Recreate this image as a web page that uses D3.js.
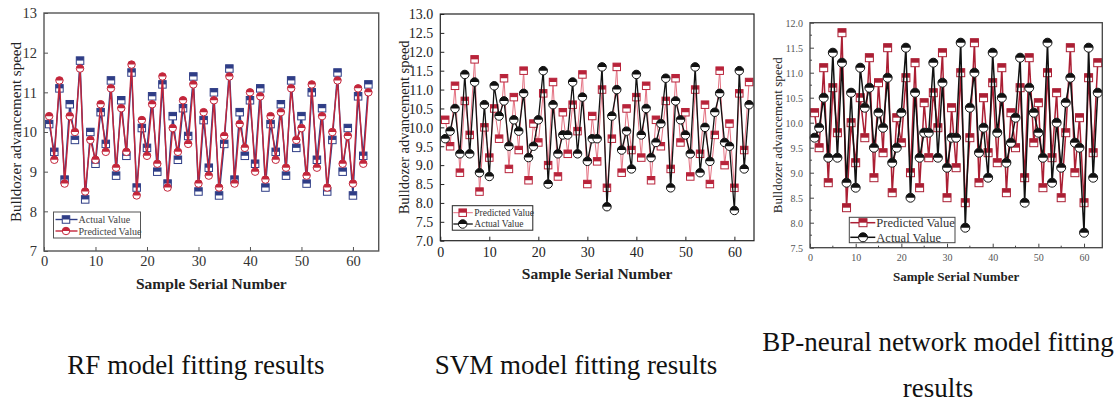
<!DOCTYPE html>
<html>
<head>
<meta charset="utf-8">
<title>Bulldozer advancement speed - model fitting</title>
<script src="https://cdn.jsdelivr.net/npm/d3@7"></script>
<style>
  body { margin:0; background:#fff; }
  svg { display:block; }
  text { font-family:"Liberation Serif","Times New Roman",serif; }
</style>
</head>
<body>
<svg id="chart"></svg>
<script>
// values (sample serial number 1..63)
var rfActual = [10.2,9.5,11.1,8.8,10.7,9.8,11.8,8.3,10.0,9.2,
                10.5,9.7,11.3,8.9,10.8,9.4,11.5,8.6,10.1,9.6,
                10.9,9.0,11.2,8.7,10.4,9.3,10.6,9.9,11.4,8.5,
                10.3,9.1,11.0,8.4,9.7,11.6,8.8,10.5,9.4,10.8,
                9.2,11.1,8.6,10.2,9.5,10.7,8.9,11.3,9.6,10.4,
                8.7,11.0,9.3,10.6,8.5,9.8,11.5,9.0,10.1,8.4,
                10.9,9.4,11.2];
var rfPredicted = [10.4,9.3,11.3,8.7,10.4,10.0,11.6,8.5,9.8,9.3,
                   10.7,9.5,11.1,9.1,10.6,9.5,11.7,8.4,10.3,9.4,
                   10.7,9.2,11.4,8.6,10.1,9.5,10.8,9.7,11.2,8.7,
                   10.5,8.9,10.8,8.6,9.9,11.4,8.7,10.2,9.6,11.0,
                   9.0,10.9,8.8,10.4,9.3,10.5,9.1,11.1,9.8,10.1,
                   8.9,11.2,9.1,10.4,8.6,10.0,11.3,9.2,9.9,8.7,
                   11.1,9.2,11.0];
// SVM and BP panels plot the same two series
var nnPredicted = rfActual;
var nnActual = [9.7,9.9,10.5,9.3,11.4,9.3,11.2,8.8,10.6,8.7,
                11.1,10.3,10.7,9.5,10.2,9.9,10.9,9.2,9.5,10.2,
                11.5,8.5,10.6,9.3,9.8,9.8,11.2,9.3,10.8,9.1,
                9.7,9.7,11.6,7.9,10.3,11.0,9.4,9.9,8.9,11.4,
                9.8,10.5,9.2,9.6,10.1,11.3,8.4,10.7,10.2,9.8,
                9.3,11.6,8.8,10.0,9.1,10.4,10.9,9.6,9.5,7.8,
                11.5,8.9,10.6];

var xTicks = [0,10,20,30,40,50,60];
var rfYTicks = [7,8,9,10,11,12,13];
var svmYTicks = [7.0,7.5,8.0,8.5,9.0,9.5,10.0,10.5,11.0,11.5,12.0,12.5,13.0];
var bpYTicks = [7.5,8.0,8.5,9.0,9.5,10.0,10.5,11.0,11.5,12.0];
var captions = ["RF model fitting results","SVM model fitting results",
                "BP-neural network model fitting","results"];

var W = 1119, H = 402;
var svg = d3.select("#chart").attr("width", W).attr("height", H);
svg.append("rect").attr("width", W).attr("height", H).attr("fill", "#fff");

var panels = [
  { box:[44,13,378.7,251], xMax:65, yDom:[7,13], yTicks:rfYTicks, fmt:d3.format("d"),
    tickSize:14.5, tickColor:"#333", frame:"#555", frameW:1.4, minor:false,
    yTitle:{x:21, size:15}, xTitle:{y:289, size:15.5}, xLabY:266,
    series:[
      {values:rfActual, label:"Actual Value", color:"#2f3d86", line:"#2f3d86", lw:1.4, shape:"square", size:7.5},
      {values:rfPredicted, label:"Predicted Value", color:"#c3263b", line:"#c3263b", lw:1.4, shape:"circle", size:7.5}
    ],
    legend:{x:53.5, y:212, w:87, h:26, rows:[7.5,19], line:[2,24], mk:12.5, tx:25, size:10, color:"#444"} },
  { box:[440.3,14,754,240.7], xMax:64, yDom:[7,13], yTicks:svmYTicks, fmt:d3.format(".1f"),
    tickSize:14, tickColor:"#222", frame:"#222", frameW:1.2, minor:false,
    yTitle:{x:409, size:14.5}, xTitle:{y:279, size:15.5}, xLabY:257,
    series:[
      {values:nnPredicted, label:"Predicted Value", color:"#b8233a", line:"#e47182", lw:1, shape:"square", size:7.5},
      {values:nnActual, label:"Actual Value", color:"#111", line:"#111", lw:1.3, shape:"circle", size:8.5}
    ],
    legend:{x:452.3, y:205.7, w:80.5, h:24.5, rows:[7,18.3], line:[1,20.5], mk:10.4, tx:22, size:9.5, color:"#333"} },
  { box:[810,22.7,1102.3,247.7], xMax:64, yDom:[7.5,12], yTicks:bpYTicks, fmt:d3.format(".1f"),
    tickSize:10, tickColor:"#555", frame:"#444", frameW:1.3, minor:true,
    yTitle:{x:782, size:13}, xTitle:{y:280.5, size:13}, xLabY:261.5,
    series:[
      {values:nnPredicted, label:"Predicted Value", color:"#ab1f34", line:"#ab1f34", lw:1.5, shape:"square", size:8},
      {values:nnActual, label:"Actual Value", color:"#111", line:"#111", lw:1.5, shape:"circle", size:9}
    ],
    legend:{x:849.3, y:217.3, w:105.7, h:25.4, rows:[5.4,20], line:[1,26], mk:13.7, tx:27, size:12.5, color:"#333"} }
];

// half-up filled marker: white body, coloured outline, top half solid
function marker(g, shape, cx, cy, s, color) {
  var r = s / 2;
  if (shape === "square") {
    g.append("rect").attr("x", cx - r).attr("y", cy - r).attr("width", s).attr("height", s)
      .attr("fill", "#fff").attr("stroke", color).attr("stroke-width", 1);
    g.append("rect").attr("x", cx - r).attr("y", cy - r).attr("width", s).attr("height", r)
      .attr("fill", color);
  } else {
    g.append("circle").attr("cx", cx).attr("cy", cy).attr("r", r)
      .attr("fill", "#fff").attr("stroke", color).attr("stroke-width", 1);
    g.append("path").attr("fill", color)
      .attr("d", "M" + (cx - r) + "," + cy + " A" + r + "," + r + " 0 0 1 " + (cx + r) + "," + cy + " Z");
  }
}

panels.forEach(function(p) {
  var x0 = p.box[0], y0 = p.box[1], x1 = p.box[2], y1 = p.box[3];
  var x = d3.scaleLinear().domain([0, p.xMax]).range([x0, x1]);
  var y = d3.scaleLinear().domain(p.yDom).range([y1, y0]);
  var g = svg.append("g");

  // axes with inward ticks
  var ya = g.append("g").attr("transform", "translate(" + x0 + ",0)")
    .call(d3.axisLeft(y).tickValues(p.yTicks).tickFormat(p.fmt).tickSize(-4).tickPadding(7));
  var xa = g.append("g").attr("transform", "translate(0," + y1 + ")")
    .call(d3.axisBottom(x).tickValues(xTicks).tickSize(-4).tickPadding(0));
  [ya, xa].forEach(function(a) {
    a.select(".domain").remove();
    a.selectAll("line").attr("stroke", p.frame).attr("stroke-width", 1);
    a.selectAll("text").attr("fill", p.tickColor).attr("font-size", p.tickSize)
      .attr("font-family", '"Liberation Serif","Times New Roman",serif');
  });
  xa.selectAll("text").attr("dy", null).attr("y", p.xLabY - y1);
  ya.selectAll("text").attr("dy", "0.34em");

  if (p.minor) {
    var ym = d3.range(p.yDom[0] + 0.25, p.yDom[1], 0.5);
    g.selectAll(".ymin").data(ym).enter().append("line")
      .attr("x1", x0).attr("x2", x0 + 2).attr("y1", y).attr("y2", y)
      .attr("stroke", p.frame);
    var xm = [5,15,25,35,45,55];
    g.selectAll(".xmin").data(xm).enter().append("line")
      .attr("y1", y1).attr("y2", y1 - 2).attr("x1", x).attr("x2", x)
      .attr("stroke", p.frame);
  }

  // series
  p.series.forEach(function(s) {
    var line = d3.line().x(function(d, i) { return x(i + 1); }).y(function(d) { return y(d); });
    g.append("path").datum(s.values).attr("d", line)
      .attr("fill", "none").attr("stroke", s.line).attr("stroke-width", s.lw)
      .attr("stroke-linejoin", "round");
    var mg = g.append("g");
    s.values.forEach(function(v, i) { marker(mg, s.shape, x(i + 1), y(v), s.size, s.color); });
  });

  // frame
  g.append("rect").attr("x", x0).attr("y", y0).attr("width", x1 - x0).attr("height", y1 - y0)
    .attr("fill", "none").attr("stroke", p.frame).attr("stroke-width", p.frameW);

  // titles
  g.append("text")
    .attr("transform", "translate(" + p.yTitle.x + "," + ((y0 + y1) / 2) + ") rotate(-90)")
    .attr("text-anchor", "middle").attr("font-size", p.yTitle.size).attr("fill", "#222")
    .text("Bulldozer advancement speed");
  g.append("text").attr("x", (x0 + x1) / 2).attr("y", p.xTitle.y)
    .attr("text-anchor", "middle").attr("font-size", p.xTitle.size).attr("font-weight", "bold")
    .attr("fill", "#222").text("Sample Serial Number");

  // legend
  var L = p.legend;
  var lg = g.append("g").attr("transform", "translate(" + L.x + "," + L.y + ")");
  lg.append("rect").attr("width", L.w).attr("height", L.h)
    .attr("fill", "#fff").attr("stroke", p.frame).attr("stroke-width", 1);
  p.series.forEach(function(s, i) {
    var ry = L.rows[i];
    lg.append("line").attr("x1", L.line[0]).attr("x2", L.line[1]).attr("y1", ry).attr("y2", ry)
      .attr("stroke", s.line).attr("stroke-width", s.lw);
    marker(lg, s.shape, L.mk, ry, s.size, s.color);
    lg.append("text").attr("x", L.tx).attr("y", ry).attr("dy", "0.35em")
      .attr("font-size", L.size).attr("fill", L.color).text(s.label);
  });
});

// captions under the panels
var cap = [
  {x:196, y:374, t:captions[0]},
  {x:576, y:374, t:captions[1]},
  {x:938, y:351, t:captions[2]},
  {x:938, y:397, t:captions[3]}
];
svg.selectAll(".cap").data(cap).enter().append("text")
  .attr("x", function(d) { return d.x; }).attr("y", function(d) { return d.y; })
  .attr("text-anchor", "middle").attr("font-size", 27).attr("fill", "#111")
  .text(function(d) { return d.t; });
</script>
</body>
</html>
